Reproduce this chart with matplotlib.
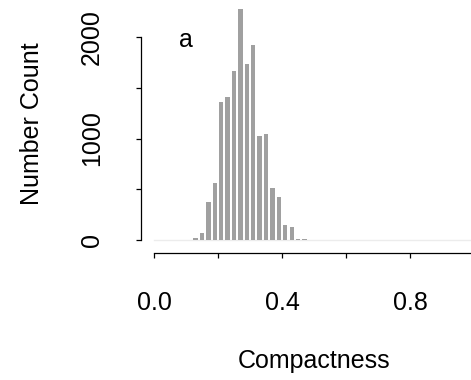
import numpy as np
import matplotlib
matplotlib.use("Agg")
import matplotlib.pyplot as plt

plt.rcParams["font.family"] = ["Liberation Sans", "DejaVu Sans"]

# histogram of compactness, bins of width 0.02
bin_left = [0.12, 0.14, 0.16, 0.18, 0.20, 0.22, 0.24, 0.26, 0.28,
            0.30, 0.32, 0.34, 0.36, 0.38, 0.40, 0.42, 0.44, 0.46]
counts = [20, 69, 374, 562, 1356, 1409, 1662, 2279, 1737,
          1918, 1025, 1041, 516, 424, 148, 128, 13, 10]
bin_w = 0.02

x_ticks = [0.0, 0.2, 0.4, 0.6, 0.8, 1.0]
x_labels = ["0.0", "", "0.4", "", "0.8", ""]
y_ticks = [0, 500, 1000, 1500, 2000]
y_labels = ["0", "", "1000", "", "2000"]

W, H = 471, 380
fig = plt.figure(figsize=(W / 100, H / 100), dpi=100)
ax = fig.add_axes([141 / W, 1 - 253 / H, (487 - 141) / W, 253 / H])

centers = np.array(bin_left) + bin_w / 2
ax.bar(centers, counts, width=bin_w * 0.68, color="#a0a0a0", linewidth=0)
ax.plot([0, 1], [0, 0], color="#ececec", lw=1, zorder=0)

ax.set_xlim(-0.0406, 1.04)
ax.set_ylim(-128, 2365)

for s in ["top", "right"]:
    ax.spines[s].set_visible(False)
ax.spines["left"].set_bounds(0, 2000)
ax.spines["bottom"].set_bounds(0, 1)
ax.spines["left"].set_linewidth(0.9)
ax.spines["bottom"].set_linewidth(0.9)

ax.set_xticks(x_ticks)
ax.set_xticklabels(x_labels, fontsize=18)
ax.set_yticks(y_ticks)
ax.set_yticklabels(y_labels, fontsize=18, rotation=90, va="center")
ax.tick_params(axis="x", length=3.6, width=0.9, pad=24)
ax.tick_params(axis="y", length=3.6, width=0.9, pad=23)

ax.text(0.1, 1970, "a", fontsize=18, ha="center", va="center")

fig.text(314 / W, 1 - 361 / H, "Compactness", fontsize=18, ha="center", va="center")
fig.text(32 / W, 1 - 124 / H, "Number Count", fontsize=18, ha="center", va="center",
         rotation=90)

fig.savefig("out.png", dpi=100)
